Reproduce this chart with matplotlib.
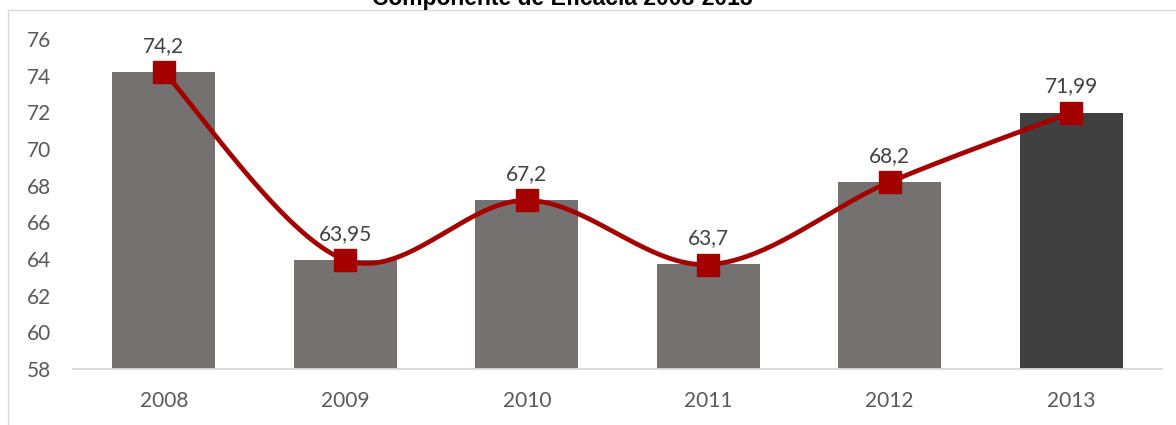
"""Componente de Eficacia 2008-2013: bars with smoothed trend line."""

import matplotlib

matplotlib.use("Agg")
import matplotlib.pyplot as plt
import numpy as np
from matplotlib.patches import Rectangle

YEARS = ["2008", "2009", "2010", "2011", "2012", "2013"]
VALUES = [74.2, 63.95, 67.2, 63.7, 68.2, 71.99]
LABELS = ["74,2", "63,95", "67,2", "63,7", "68,2", "71,99"]
BAR_COLORS = ["#767171", "#767171", "#767171", "#767171", "#767171", "#404040"]
TITLE = "Componente de Eficacia 2008-2013"

W, H = 1176, 425


def smooth_curve(x, y, steps=40):
    """Excel-style smoothed line: cubic Bezier with Catmull-Rom control points."""
    px = np.concatenate([[x[0]], x, [x[-1]]])
    py = np.concatenate([[y[0]], y, [y[-1]]])
    t = np.linspace(0, 1, steps)
    xs, ys = [], []
    for i in range(1, len(px) - 2):
        p0 = np.array([px[i], py[i]])
        p3 = np.array([px[i + 1], py[i + 1]])
        c1 = p0 + (np.array([px[i + 1], py[i + 1]]) - np.array([px[i - 1], py[i - 1]])) / 6
        c2 = p3 - (np.array([px[i + 2], py[i + 2]]) - np.array([px[i], py[i]])) / 6
        pts = ((1 - t) ** 3)[:, None] * p0 + (3 * (1 - t) ** 2 * t)[:, None] * c1 \
            + (3 * (1 - t) * t ** 2)[:, None] * c2 + (t ** 3)[:, None] * p3
        xs.append(pts[:, 0])
        ys.append(pts[:, 1])
    return np.concatenate(xs), np.concatenate(ys)


fig = plt.figure(figsize=(W / 100, H / 100), dpi=100)
ax = fig.add_axes([73 / W, 1 - 369 / H, (1162 - 73) / W, (369 - 39) / H])

x = np.arange(len(YEARS))
ax.bar(x, [v - 58 for v in VALUES], bottom=58, width=0.57, color=BAR_COLORS, zorder=2)

# smooth in display space so the shape matches the rendered chart
ax.set_xlim(-0.5, len(YEARS) - 0.5)
ax.set_ylim(58, 76)
disp = ax.transData.transform(np.column_stack([x, VALUES]))
sx, sy = smooth_curve(disp[:, 0], disp[:, 1])
curve = ax.transData.inverted().transform(np.column_stack([sx, sy]))
ax.plot(curve[:, 0], curve[:, 1], color="#A50000", lw=3.4, zorder=3, solid_capstyle="round")
ax.plot(x, VALUES, ls="none", marker="s", ms=15.6, color="#A50000", zorder=4)

for xi, v, lab in zip(x, VALUES, LABELS):
    ax.annotate(lab, (xi, v), xytext=(0, 11.5), textcoords="offset points",
                ha="center", va="bottom", fontsize=15, family="Lato", color="#404040")

ax.set_yticks(range(58, 77, 2))
ax.set_xticks(x)
ax.set_xticklabels(YEARS)
for lab in ax.get_xticklabels() + ax.get_yticklabels():
    lab.set_family("Lato")
    lab.set_fontsize(15)
    lab.set_color("#595959")
ax.tick_params(axis="y", length=0, pad=16)
ax.tick_params(axis="x", length=0, pad=16)
for side in ["top", "right", "left"]:
    ax.spines[side].set_visible(False)
ax.spines["bottom"].set_color("#D9D9D9")
ax.spines["bottom"].set_linewidth(1.3)

# chart frame (cropped on right and bottom)
fig.patches.append(Rectangle((8 / W, -0.1), 1.2, 1 - 10 / H + 0.1, transform=fig.transFigure,
                             fill=False, edgecolor="#D9D9D9", lw=1.0))
fig.text(562 / W, 1 - 5 / H, TITLE, ha="center", va="baseline", fontsize=16.5,
         fontweight="bold", family="Liberation Sans", color="black")

fig.savefig("out.png", dpi=100)
